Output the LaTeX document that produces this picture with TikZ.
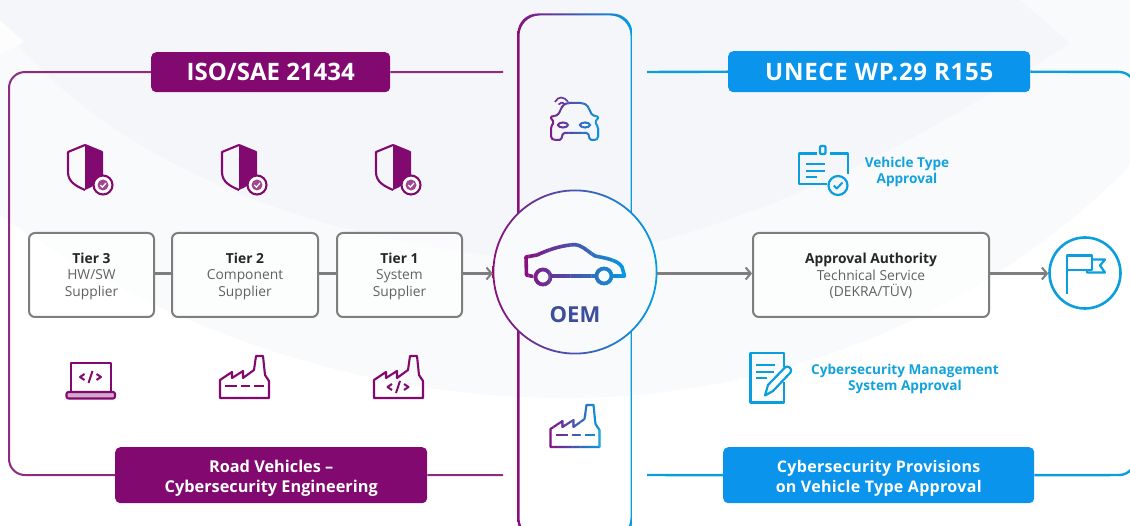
\documentclass[tikz,border=0pt]{standalone}
\usepackage{fontspec}
\setmainfont{Open Sans}
\newfontfamily\wide[LetterSpace=3]{Open Sans}
\newfontfamily\widesm[LetterSpace=2]{Open Sans}
\usetikzlibrary{arrows.meta}
\definecolor{pur}{HTML}{82096F}
\definecolor{purl}{HTML}{8E2A80}
\definecolor{blu}{HTML}{0A94EC}
\definecolor{cya}{HTML}{0A9FDC}
\definecolor{txtb}{HTML}{12A2DC}
\definecolor{gry}{HTML}{7E7E7E}
\definecolor{gl}{HTML}{8A0F7C}
\definecolor{gr}{HTML}{009FE3}
\definecolor{bgb}{HTML}{F9FAFC}
\definecolor{bgc}{HTML}{F5F6FA}
\definecolor{oemc}{HTML}{3D4E9A}
\newcommand{\padtop}[1]{\rule{0pt}{#1}}
\tikzset{
  tag/.style={rounded corners=5pt,inner sep=0pt,text=white,font=\bfseries,align=center,anchor=north west},
  tierbox/.style={draw=gry,line width=2pt,rounded corners=6pt,fill=white,fill opacity=.6,text opacity=1,inner sep=0pt,anchor=north west,align=center,font=\fontsize{13.8}{16.5}\selectfont,text=black!62},
  iconp/.style={draw=pur,line width=2.1pt,line join=round,fill=none},
  iconc/.style={draw=cya,line width=2.2pt,line join=round},
  frameP/.style={draw=purl,line width=2pt,rounded corners=16pt},
  frameB/.style={draw=cya,line width=2.4pt,rounded corners=16pt},
  link/.style={draw=gry,line width=2.4pt},
  arrowlink/.style={link,-{Straight Barb[length=5pt,width=12pt,line width=2pt]}},
  bluelabel/.style={text=txtb,font=\bfseries\fontsize{13.6}{16}\selectfont,align=center,inner sep=0pt}
}
% vertical-slice gradient stroke for icons
\newcommand{\gradicon}[3]{% x0, x1, paths
  \foreach \k in {0,...,19}{
    \pgfmathsetmacro{\xa}{#1+(#2-#1)*\k/20}
    \pgfmathsetmacro{\xb}{#1+(#2-#1)*(\k+1)/20+.3}
    \pgfmathtruncatemacro{\pct}{(\k+.5)*5}
    \begin{scope}
      \colorlet{gcol}{gr!\pct!gl}
      \clip (\xa,-10) rectangle (\xb,540);
      #3
    \end{scope}
  }
}
\newcommand{\shieldicon}[1]{%
  \begin{scope}[xshift=#1pt]
    \fill[pur] (85,145) -- (102,152) -- (102,172) .. controls (102,182) and (94,186) .. (85,190) -- cycle;
    \path[iconp] (85,145) -- (68,152) -- (68,172) .. controls (68,182) and (76,186) .. (85,190);
    \path[iconp] (85,145) -- (102,152) -- (102,176);
    \path[iconp,fill=white] (103,185) circle (9.5);
    \fill[pur!75] (103,185) circle (5.5);
    \draw[white,line width=1.3pt] (100.3,185) -- (102.4,187.2) -- (106,183);
  \end{scope}
}
\newcommand{\factorybody}[1]{%
  #1 (220,398) -- (220,380) -- (232,372) -- (232,378) -- (243,371) -- (243,378) -- (254,370)
     -- (256,356) -- (263,356) -- (265,375) -- (269,381) -- (269,398) -- cycle;
}
\newcommand{\codemark}[2]{%
  \begin{scope}[shift={(#1,#2)}]
    \path[iconp,line width=2pt] (-6,-3) -- (-10.5,0) -- (-6,3) (6,-3) -- (10.5,0) -- (6,3) (2,-6) -- (-2,6);
  \end{scope}
}
\begin{document}
\begin{tikzpicture}[x=1pt,y=-1pt]
\useasboundingbox (0,0) rectangle (1130,526);
% background
\fill[white] (0,0) rectangle (1130,526);
\fill[bgb] (0,215) .. controls (150,320) and (350,400) .. (575,398) .. controls (800,395) and (1000,300) .. (1130,165) -- (1130,0) -- (0,0) -- cycle;
\fill[bgc] (8,32) .. controls (100,150) and (300,250) .. (575,262) .. controls (800,215) and (950,120) .. (1070,43) -- (1020,0) -- (0,0) -- (0,20) -- cycle;
\fill[white!70!bgb] (0,20) -- (24,42) -- (0,55) -- cycle;

% centre pill
\path[left color=gl,right color=gr,even odd rule,rounded corners=20pt]
  (517.5,13.5) rectangle (632.5,540) (519.5,15.5) rectangle (630.5,538);

% tags
\node[tag,fill=pur,minimum width=239pt,minimum height=40pt,font=\bfseries\fontsize{24}{28}\selectfont] (iso) at (151,52) {ISO/SAE 21434};
\node[tag,fill=pur,minimum width=312pt,minimum height=56pt,font=\bfseries\fontsize{16.3}{20}\selectfont] (road) at (115,447) {\padtop{18pt}Road Vehicles –\\Cybersecurity Engineering};
\node[tag,fill=blu,minimum width=302pt,minimum height=41pt,font=\wide\bfseries\fontsize{24}{28}\selectfont] (unece) at (728,51) {UNECE WP.29 R155};
\node[tag,fill=blu,minimum width=311pt,minimum height=56pt,font=\widesm\bfseries\fontsize{16}{20}\selectfont] (prov) at (723,447) {\padtop{18pt}Cybersecurity Provisions\\on Vehicle Type Approval};

% frames
\coordinate (isoEnd) at (503,72);
\coordinate (roadEnd) at (503,475);
\coordinate (uneceEnd) at (647,72);
\coordinate (provEnd) at (647,475);
\coordinate (lt) at (9,72);
\coordinate (lb) at (9,475);
\coordinate (rt) at (1135,72);
\coordinate (rb) at (1135,475);
\path[frameP] (iso.west) -- (lt) -- (lb) -- (road.west);
\path[frameP] (iso.east) -- (isoEnd);
\path[frameP] (road.east) -- (roadEnd);
\path[frameB] (unece.east) -- (rt) -- (rb) -- (prov.east);
\path[frameB] (unece.west) -- (uneceEnd);
\path[frameB] (prov.west) -- (provEnd);

% boxes
\node[tierbox,minimum width=125pt,minimum height=84pt] (t3) at (28,232) {\padtop{13pt}\textbf{\textcolor{black!85}{Tier 3}}\\HW/SW\\Supplier};
\node[tierbox,minimum width=146pt,minimum height=84pt] (t2) at (171,232) {\padtop{13pt}\textbf{\textcolor{black!85}{Tier 2}}\\Component\\Supplier};
\node[tierbox,minimum width=125pt,minimum height=84pt] (t1) at (336,232) {\padtop{13pt}\textbf{\textcolor{black!85}{Tier 1}}\\System\\Supplier};
\node[tierbox,minimum width=236pt,minimum height=84pt] (aa) at (752,232) {\padtop{13pt}\textbf{\textcolor{black!85}{Approval Authority}}\\Technical Service\\(DEKRA/TÜV)};

% OEM circle
\node[circle,fill=bgb,minimum size=164pt,inner sep=0pt] (oem) at (575,272) {};
\path[left color=gl,right color=gr,even odd rule] (575,272) circle (82.5) (575,272) circle (80.7);
\node[inner sep=0pt,text=oemc,font=\bfseries\fontsize{22}{24}\selectfont] (oemt) at (575,314.5) {OEM};

% flag circle
\node[circle,draw=cya,line width=2.6pt,minimum size=71pt,inner sep=0pt,fill=white] (flag) at (1085,273) {};

% connectors
\path[link] (t3.east |- 0,273.5) -- (t2.west |- 0,273.5);
\path[link] (t2.east |- 0,273.5) -- (t1.west |- 0,273.5);
\path[arrowlink] (t1.east |- 0,273.5) -- (oem.west |- 0,273.5);
\path[arrowlink] (oem.east |- 0,273.5) -- (aa.west |- 0,273.5);
\path[arrowlink] (aa.east |- 0,273.5) -- (flag.west |- 0,273.5);

% shields
\shieldicon{0}\shieldicon{154}\shieldicon{308}

% laptop
\path[iconp] (71,392) -- (71,363) -- (111,363) -- (111,392);
\fill[pur!35] (66.5,392) rectangle (115,398.5);
\path[iconp,rounded corners=2pt] (66.5,392) rectangle (115,398.5);
\codemark{90.5}{377}

% factories
\path[iconp] \factorybody{};
\path[iconp,line width=2.2pt] (225,386) -- (237,386) (241,386) -- (250,386) (254,386) -- (264,386);
\begin{scope}[xshift=154pt]
  \path[iconp] \factorybody{};
\end{scope}
\codemark{398}{387}

% gradient icons in pill and circle
\gradicon{548}{602}{
  \begin{scope}[shift={(330.5,49)}]
    \draw[gcol,line width=2.1pt,line join=round] \factorybody{};
    \draw[gcol,line width=2.2pt] (225,386) -- (237,386) (241,386) -- (250,386) (254,386) -- (264,386);
  \end{scope}
}
\gradicon{546}{602}{
  \draw[gcol,line width=2pt,line join=round,rounded corners=1.5pt] (558,115) -- (563,105) -- (568,103) -- (582,103) -- (587,105) -- (592,115) -- (599,117) -- (595,122) -- (598,127) -- (598,138) -- (596,140) -- (590,140) -- (588,133) -- (563,133) -- (561,140) -- (554,140) -- (551,138) -- (551,127) -- (554,122) -- (550,117) -- cycle;
  \draw[gcol,line width=2pt] (563,125) ellipse (5 and 2.5) (585,125) ellipse (5 and 2.5);
  \draw[gcol,line width=1.6pt] (555,102) .. controls (558,96) and (564,96) .. (568,102) (558.5,104.5) .. controls (560,102) and (563,102) .. (565,104.5);
  \fill[gcol] (562,107) circle (1.4);
}
\gradicon{523}{628}{
  \draw[gcol,line width=3.6pt,line join=round] (533,276.5) -- (526.5,275) -- (526,257) -- (537,255) .. controls (548,250) and (558,246.5) .. (570,245) .. controls (574,244.5) and (577,244.5) .. (579,245.5) .. controls (585,248) and (590,253) .. (595,256) .. controls (605,258) and (618,260) .. (622,267) -- (624.5,276) -- (612,276) (597,276) -- (550,276);
  \draw[gcol,line width=3.8pt] (543,277) circle (7.5) (604,276) circle (7.5);
}

% certificate
\path[iconc] (817,153.5) -- (799,153.5) -- (799,184) -- (827,184);
\path[iconc] (830,153.5) -- (848,153.5) -- (848,174);
\path[iconc,rounded corners=1pt] (820,146) rectangle (825.5,154);
\path[iconc,line width=2.4pt] (806,164) -- (825,164) (806,171) -- (825,171) (806,177) -- (817,177);
\path[iconc,fill=bgc] (838,185.5) circle (9.5);
\path[iconc,line width=2pt] (833.8,185.5) -- (836.8,188.5) -- (842.5,182.5);
\node[bluelabel] (vta) at (907,171.5) {Vehicle Type\\Approval};

% document + pencil
\path[iconc,line width=2.6pt] (784,367) -- (784,353) -- (750.5,353) -- (750.5,402.5) -- (784,402.5) -- (784,382);
\path[iconc,line width=2.4pt] (756,365) -- (775,365) (756,372) -- (774,372) (756,378) -- (767,378);
\path[iconc,line width=2.2pt,fill=white] (765,395.5) -- (768,385) -- (785,367.5) .. controls (788,364.5) and (793,369) .. (790.5,372.5) -- (773,391) -- cycle;
\node[bluelabel] (csm) at (905,379) {Cybersecurity Management\\System Approval};

% flag glyph
\path[iconc] (1067,294) -- (1067,255.5) -- (1092,255.5) -- (1092,270) -- (1067,270);
\path[iconc] (1092,259.5) -- (1105,259.5) -- (1100,265.5) -- (1105,272.5) -- (1087,272.5) -- (1087,270);
\end{tikzpicture}
\end{document}
